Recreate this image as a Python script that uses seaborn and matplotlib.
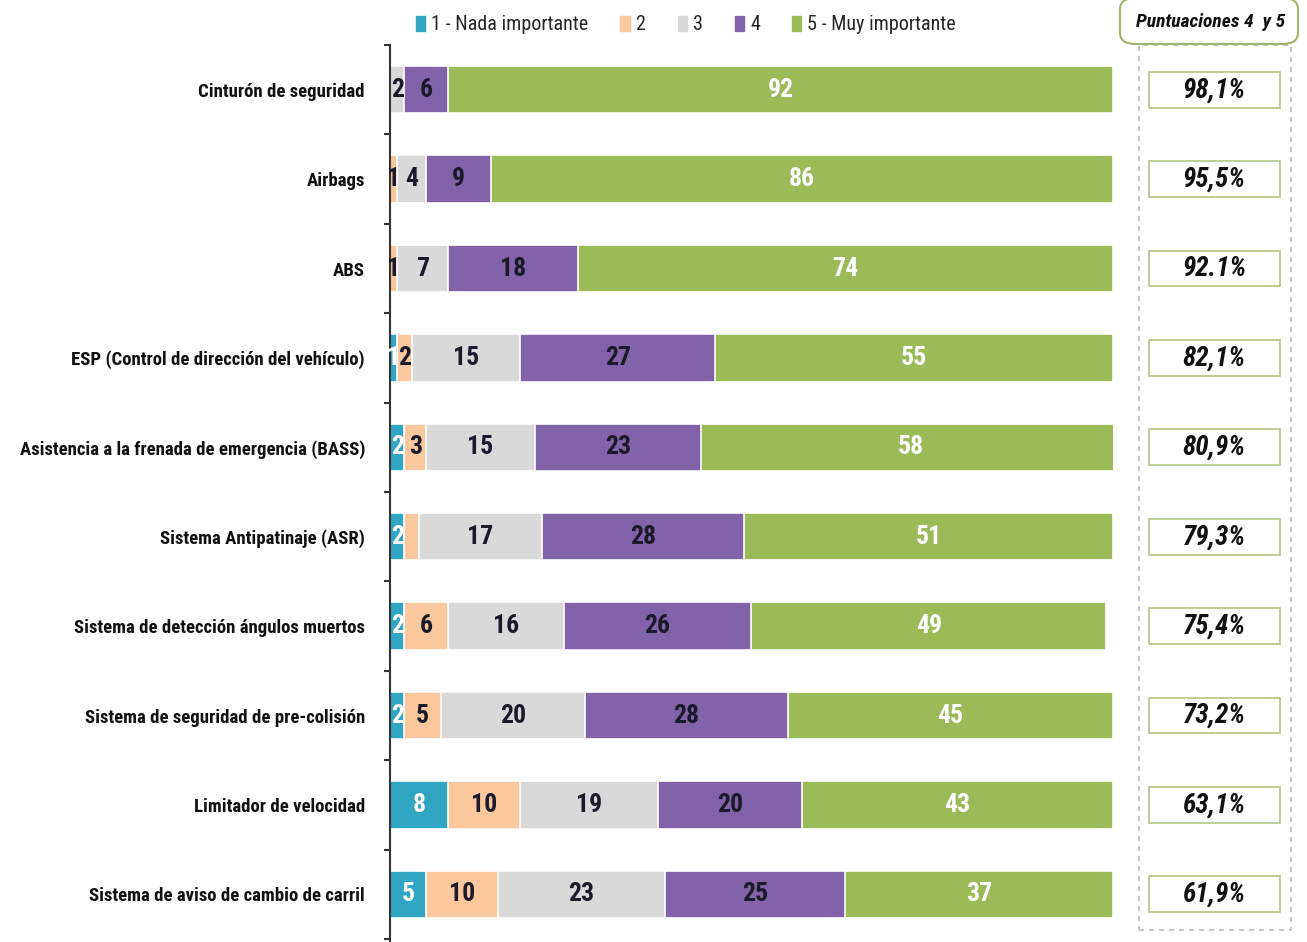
import matplotlib
matplotlib.use("Agg")
import matplotlib.pyplot as plt
import seaborn as sns
import numpy as np
import pandas as pd
from matplotlib import font_manager
from matplotlib.patches import FancyBboxPatch, Rectangle
from matplotlib.transforms import blended_transform_factory

categories = [
    "Cinturón de seguridad",
    "Airbags",
    "ABS",
    "ESP (Control de dirección del vehículo)",
    "Asistencia a la frenada de emergencia (BASS)",
    "Sistema Antipatinaje (ASR)",
    "Sistema de detección ángulos muertos",
    "Sistema de seguridad de pre-colisión",
    "Limitador de velocidad",
    "Sistema de aviso de cambio de carril",
]
score1 = [0, 0, 0, 1, 2, 2, 2, 2, 8, 5]
score2 = [0, 1, 1, 2, 3, 2, 6, 5, 10, 10]
score3 = [2, 4, 7, 15, 15, 17, 16, 20, 19, 23]
score4 = [6, 9, 18, 27, 23, 28, 26, 28, 20, 25]
score5 = [92, 86, 74, 55, 58, 51, 49, 45, 43, 37]
top_pct = ["98,1%", "95,5%", "92.1%", "82,1%", "80,9%", "79,3%", "75,4%", "73,2%", "63,1%", "61,9%"]
series_names = ["1 - Nada importante", "2", "3", "4", "5 - Muy importante"]
hidden_labels = [(5, 1)]

colors = ["#31A6C4", "#FAC89C", "#D9D9D9", "#8262A8", "#9BBB59"]
text_colors = ["white", "#1a1a2a", "#1a1a2a", "#1a1a2a", "white"]

sns.set_theme(style="white")
ttf = font_manager.fontManager.ttflist
names = {f.name for f in ttf}
stretch = "normal"
fam = "DejaVu Sans"
for cand in ["Roboto Condensed", "Liberation Sans Narrow", "Open Sans Condensed", "Noto Sans Condensed"]:
    if cand in names:
        fam = cand
        break
else:
    cond = [f for f in ttf if f.stretch in ("condensed", "semi-condensed", "extra-condensed")
            or "Condensed" in f.fname or "Narrow" in f.fname]
    if cond:
        fam = cond[0].name
        stretch = "condensed"
plt.rcParams["font.family"] = [fam, "DejaVu Sans"]
plt.rcParams["font.stretch"] = stretch

fig = plt.figure(figsize=(13.07, 9.42), dpi=100)
ax = fig.add_axes([390 / 1307, 0.0, 723 / 1307, 897 / 942])

series = [score1, score2, score3, score4, score5]
df = pd.DataFrame({n: s for n, s in zip(series_names, series)}, index=categories)
cum = df.cumsum(axis=1)

for j in range(4, -1, -1):
    d = pd.DataFrame({"cat": categories, "val": cum.iloc[:, j].values})
    sns.barplot(data=d, x="val", y="cat", orient="h", color=colors[j],
                saturation=1, width=0.53, edgecolor="white", linewidth=1.2, ax=ax)

for i in range(len(categories)):
    left = 0
    for j in range(5):
        v = series[j][i]
        if v > 0 and (i, j) not in hidden_labels:
            ax.text(left + v / 2, i, str(v), ha="center", va="center",
                    fontsize=18.5, fontweight="bold", color=text_colors[j])
        left += v

ax.set_xlim(0, 100)
ax.set_ylim(9.5 + 3 / 90, -0.5)
ax.set_xlabel("")
ax.set_ylabel("")
ax.set_xticks([])
ax.set_yticks(range(len(categories)))
ax.set_yticklabels(categories, fontsize=13.5, fontweight="bold", color="#111111")
ax.tick_params(axis="y", which="major", length=0, pad=18)
ax.set_yticks(np.arange(-0.5, 9.6, 1), minor=True)
ax.tick_params(axis="y", which="minor", left=True, length=4.5, width=1.5,
               color="#333333", direction="out")
for s in ["top", "right", "bottom"]:
    ax.spines[s].set_visible(False)
ax.spines["left"].set_color("#333333")
ax.spines["left"].set_linewidth(1.5)

# Legend
handles = [Rectangle((0, 0), 1, 1, color=c) for c in colors]
fig.legend(handles, series_names, loc="center", bbox_to_anchor=(686 / 1307, 1 - 25 / 942),
           ncol=5, frameon=False, fontsize=14.5, handlelength=0.45, handleheight=0.8,
           handletextpad=0.3, columnspacing=1.6)

# Right panel
tr = blended_transform_factory(fig.transFigure, ax.transData)
fig.patches.append(Rectangle((1139 / 1307, 12 / 942), 152 / 1307, 885 / 942,
                             transform=fig.transFigure, fill=False, edgecolor="#bbbbbb",
                             linestyle=(0, (3, 3)), linewidth=1.2))
fig.patches.append(FancyBboxPatch((1120 / 1307, 1 - 44 / 942), 178 / 1307, 46 / 942,
                                  boxstyle="round,pad=0,rounding_size=0.012",
                                  transform=fig.transFigure, facecolor="white",
                                  edgecolor="#9fb56a", linewidth=1.5))
fig.text(1211 / 1307, 1 - 22 / 942, "Puntuaciones 4  y 5", ha="center", va="center",
         fontsize=14, fontweight="bold", style="italic", color="#111111")
for i, p in enumerate(top_pct):
    ax.add_patch(Rectangle((1149 / 1307, i - 0.2), 131 / 1307, 0.4, transform=tr,
                           facecolor="white", edgecolor="#b9c98f", linewidth=1.3, clip_on=False))
    ax.text(1214 / 1307, i, p, transform=tr, ha="center", va="center", fontsize=19.5,
            fontweight="bold", style="italic", color="#111111", clip_on=False)

fig.savefig("out.png", dpi=100)
